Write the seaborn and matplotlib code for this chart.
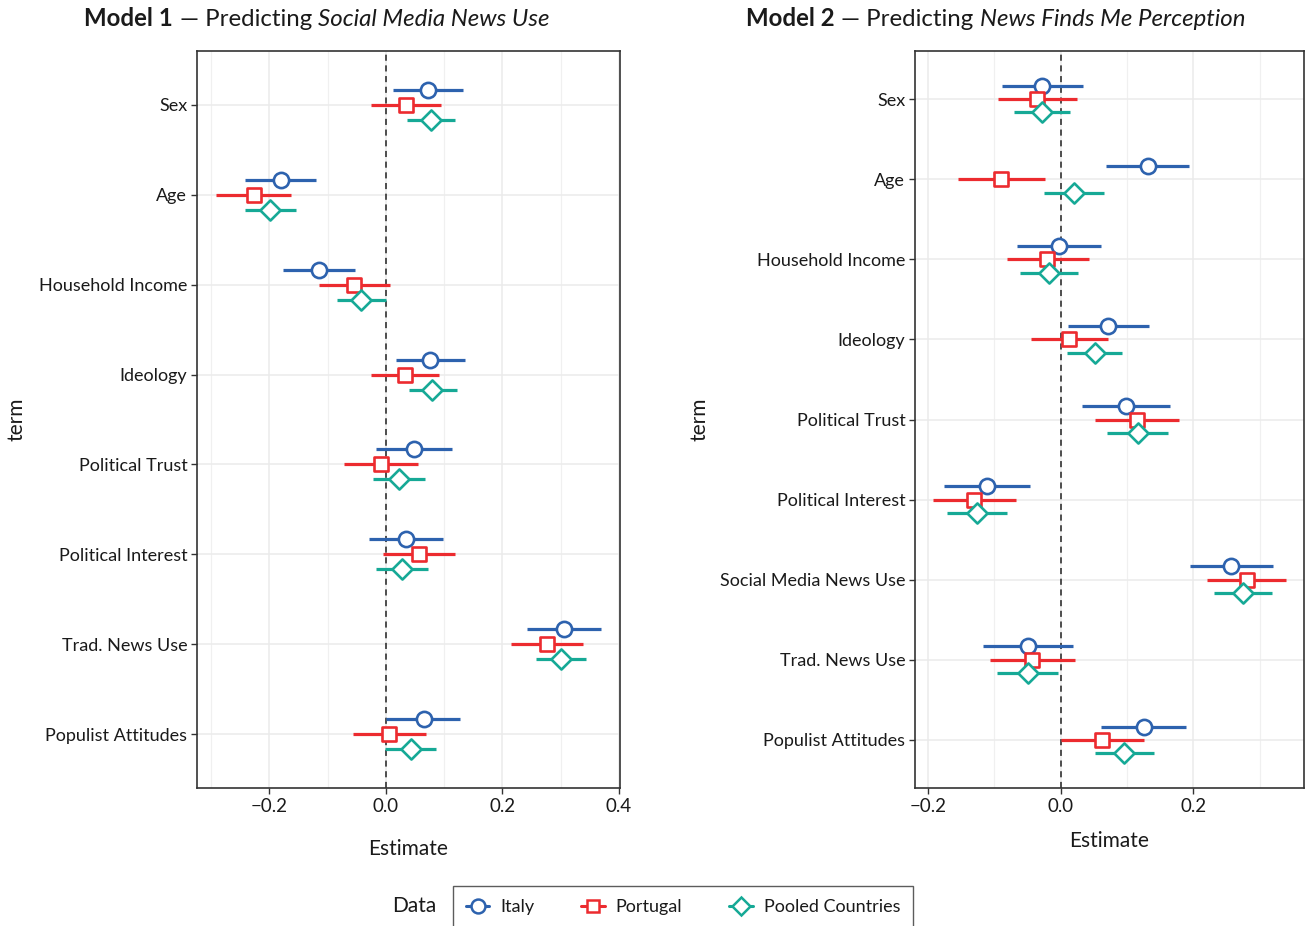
import numpy as np
import pandas as pd
import matplotlib
matplotlib.use("Agg")
import matplotlib.pyplot as plt
from matplotlib.lines import Line2D
from matplotlib.ticker import MultipleLocator
import seaborn as sns

# ---------------- data ----------------
terms1 = ["Sex", "Age", "Household Income", "Ideology", "Political Trust",
          "Political Interest", "Trad. News Use", "Populist Attitudes"]
terms2 = ["Sex", "Age", "Household Income", "Ideology", "Political Trust",
          "Political Interest", "Social Media News Use", "Trad. News Use",
          "Populist Attitudes"]
groups = ["Italy", "Portugal", "Pooled Countries"]

m1_italy_est = [0.072, -0.180, -0.114, 0.076, 0.048, 0.035, 0.306, 0.065]
m1_italy_lo = [0.013, -0.241, -0.176, 0.017, -0.017, -0.029, 0.242, 0.000]
m1_italy_hi = [0.132, -0.119, -0.052, 0.136, 0.114, 0.098, 0.369, 0.128]
m1_portugal_est = [0.035, -0.227, -0.055, 0.033, -0.008, 0.057, 0.276, 0.006]
m1_portugal_lo = [-0.025, -0.291, -0.115, -0.025, -0.071, -0.005, 0.215, -0.056]
m1_portugal_hi = [0.095, -0.163, 0.008, 0.091, 0.056, 0.119, 0.338, 0.069]
m1_pooled_est = [0.077, -0.198, -0.042, 0.080, 0.023, 0.028, 0.300, 0.043]
m1_pooled_lo = [0.036, -0.241, -0.084, 0.039, -0.022, -0.016, 0.257, -0.001]
m1_pooled_hi = [0.119, -0.154, 0.001, 0.122, 0.067, 0.072, 0.344, 0.086]

m2_italy_est = [-0.028, 0.131, -0.003, 0.071, 0.098, -0.111, 0.257, -0.050, 0.125]
m2_italy_lo = [-0.088, 0.068, -0.066, 0.011, 0.032, -0.176, 0.195, -0.117, 0.060]
m2_italy_hi = [0.033, 0.194, 0.061, 0.133, 0.164, -0.047, 0.320, 0.019, 0.189]
m2_portugal_est = [-0.036, -0.090, -0.020, 0.013, 0.115, -0.130, 0.281, -0.043, 0.062]
m2_portugal_lo = [-0.095, -0.155, -0.081, -0.045, 0.052, -0.193, 0.220, -0.106, 0.001]
m2_portugal_hi = [0.024, -0.024, 0.043, 0.071, 0.179, -0.067, 0.340, 0.021, 0.125]
m2_pooled_est = [-0.028, 0.020, -0.018, 0.051, 0.116, -0.126, 0.275, -0.050, 0.096]
m2_pooled_lo = [-0.070, -0.025, -0.061, 0.009, 0.070, -0.172, 0.231, -0.096, 0.052]
m2_pooled_hi = [0.014, 0.065, 0.026, 0.093, 0.162, -0.081, 0.319, -0.004, 0.141]

xticks1 = [-0.2, 0.0, 0.2, 0.4]
xticks2 = [-0.2, 0.0, 0.2]

# ---------------- style ----------------
colors = {"Italy": "#2D62AE", "Portugal": "#EC2B2F", "Pooled Countries": "#16A996"}
markers = {"Italy": "o", "Portugal": "s", "Pooled Countries": "D"}
msizes = {"Italy": 120, "Portugal": 95, "Pooled Countries": 105}
offsets = {"Italy": -1 / 6, "Portugal": 0.0, "Pooled Countries": 1 / 6}

sns.set_theme(style="whitegrid")
FONT = ["Lato", "DejaVu Sans"]
plt.rcParams["font.family"] = FONT
plt.rcParams["text.color"] = "#1a1a1a"


def build_df(terms, est, lo, hi):
    rows = []
    for g, e, l, h in zip(groups, est, lo, hi):
        for i, t in enumerate(terms):
            rows.append(dict(term=t, pos=i + offsets[g], Data=g,
                             estimate=e[i], low=l[i], high=h[i]))
    return pd.DataFrame(rows)


df1 = build_df(terms1,
               [m1_italy_est, m1_portugal_est, m1_pooled_est],
               [m1_italy_lo, m1_portugal_lo, m1_pooled_lo],
               [m1_italy_hi, m1_portugal_hi, m1_pooled_hi])
df2 = build_df(terms2,
               [m2_italy_est, m2_portugal_est, m2_pooled_est],
               [m2_italy_lo, m2_portugal_lo, m2_pooled_lo],
               [m2_italy_hi, m2_portugal_hi, m2_pooled_hi])

W, H = 1306, 926
fig = plt.figure(figsize=(W / 100, H / 100), dpi=100)
fig.patch.set_facecolor("white")

ax1 = fig.add_axes([197 / W, 1 - 788 / H, (620 - 197) / W, (788 - 51) / H])
ax2 = fig.add_axes([915 / W, 1 - 788 / H, (1304 - 915) / W, (788 - 51) / H])


def draw(ax, df, terms, xticks):
    n = len(terms)
    ax.axvline(0, color="#222222", lw=1.1, ls=(0, (4, 3)), zorder=2)
    for g in groups:
        sub = df[df.Data == g]
        ax.hlines(sub["pos"], sub["low"], sub["high"], color=colors[g],
                  lw=2.3, zorder=3)
        sns.scatterplot(data=sub, x="estimate", y="pos", ax=ax,
                        marker=markers[g], s=msizes[g], color=colors[g],
                        facecolor="white", edgecolor=colors[g],
                        linewidth=1.9, zorder=4, legend=False)
    lo = df["low"].min()
    hi = df["high"].max()
    pad = 0.05 * (hi - lo)
    ax.set_xlim(lo - pad, hi + pad)
    ax.set_ylim(n - 1 + 0.6, -0.6)
    ax.set_yticks(range(n))
    ax.set_yticklabels(terms)
    ax.set_xticks(xticks)
    ax.set_xticklabels([("\u22120.%d" % abs(round(v * 10))) if v < 0 else "%.1f" % v
                        for v in xticks])
    ax.xaxis.set_minor_locator(MultipleLocator(0.1))
    ax.grid(True, which="major", color="#EBEBEB", lw=1.1)
    ax.grid(True, which="minor", axis="x", color="#F0F0F0", lw=0.9)
    ax.grid(False, which="minor", axis="y")
    ax.set_axisbelow(True)
    for sp in ax.spines.values():
        sp.set_color("#333333")
        sp.set_linewidth(1.2)
    ax.tick_params(axis="x", which="major", labelsize=13.5)
    ax.tick_params(axis="y", which="major", labelsize=13)
    ax.tick_params(axis="both", which="major", length=4, width=1.0,
                   color="#333333", labelcolor="#1a1a1a",
                   left=True, bottom=True, pad=3)
    ax.tick_params(axis="both", which="minor", length=0)
    ax.set_xlabel("Estimate", fontsize=15, color="#1a1a1a")
    ax.set_ylabel("term", fontsize=15, color="#1a1a1a")


draw(ax1, df1, terms1, xticks1)
draw(ax2, df2, terms2, xticks2)
ax1.xaxis.set_label_coords(0.5, -0.069)
ax2.xaxis.set_label_coords(0.5, -0.058)
ax1.yaxis.set_label_coords(-0.402, 0.5)
ax2.yaxis.set_label_coords(-0.527, 0.5)

# ---------------- titles ----------------
renderer = fig.canvas.get_renderer()


def mixed_title(xc_px, yc_px, parts, size=17.3):
    texts, widths = [], []
    for s, kw in parts:
        t = fig.text(0, 1 - yc_px / H, s, fontsize=size, va="center",
                     ha="left", color="#1a1a1a", **kw)
        texts.append(t)
        widths.append(t.get_window_extent(renderer).width)
    gap = 0.27 * size * 100 / 72
    total = sum(widths) + gap * (len(parts) - 1)
    x = xc_px - total / 2
    for t, w in zip(texts, widths):
        t.set_x(x / W)
        x += w + gap


mixed_title(317, 19, [("Model 1", dict(fontweight="bold")),
                      ("\u2014 Predicting", dict()),
                      ("Social Media News Use", dict(fontstyle="italic"))])
mixed_title(996, 19, [("Model 2", dict(fontweight="bold")),
                      ("\u2014 Predicting", dict()),
                      ("News Finds Me Perception", dict(fontstyle="italic"))])

# ---------------- legend ----------------
handles = [Line2D([0], [0], color=colors[g], lw=2.2, marker=markers[g],
                  markersize={"Italy": 10, "Portugal": 9, "Pooled Countries": 9}[g],
                  markerfacecolor="white", markeredgecolor=colors[g],
                  markeredgewidth=1.8)
           for g in groups]
leg = fig.legend(handles, groups, loc="center", ncol=3,
                 bbox_to_anchor=(683 / W, 1 - 907 / H), frameon=True,
                 fancybox=False, edgecolor="#333333", fontsize=13,
                 handlelength=1.3, columnspacing=2.6, handletextpad=0.6,
                 borderpad=0.7)
leg.get_frame().set_linewidth(1.0)
fig.text(414 / W, 1 - 906 / H, "Data", fontsize=15, ha="center", va="center",
         color="#1a1a1a")

fig.savefig("out.png", dpi=100, facecolor="white")
